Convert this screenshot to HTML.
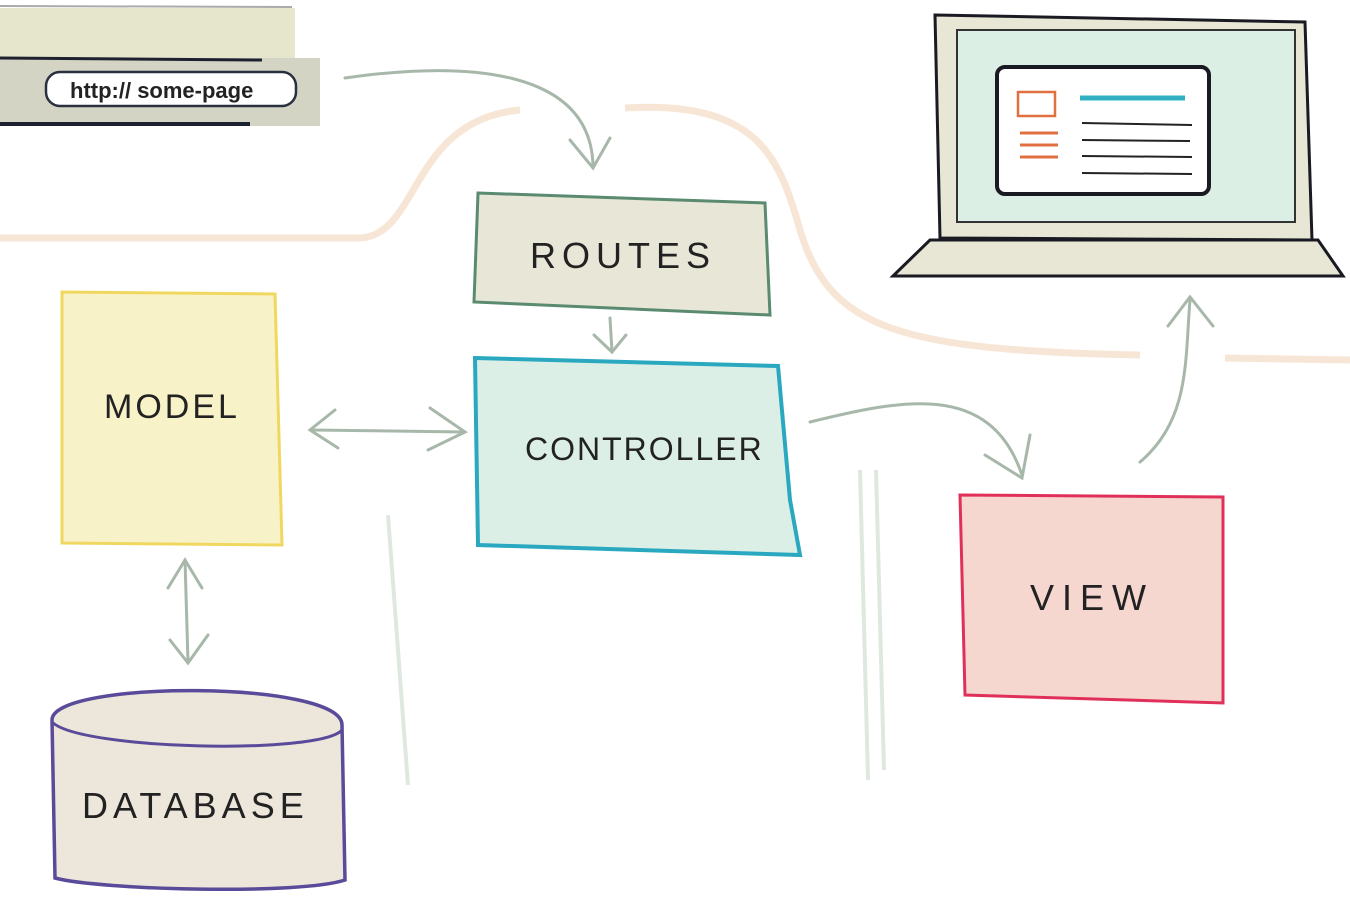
<!DOCTYPE html>
<html><head><meta charset="utf-8"><style>
html,body{margin:0;padding:0;background:#fff;width:1350px;height:900px;overflow:hidden}
svg{display:block}
text{font-family:"Liberation Sans",sans-serif;fill:#222}
</style></head><body>
<svg width="1350" height="900" viewBox="0 0 1350 900" xmlns="http://www.w3.org/2000/svg">
<g fill="none" stroke="#f3dcc4" stroke-width="7" opacity="0.7">
<path d="M0 238 L360 238 C420 235 410 120 520 110"/>
<path d="M625 108 C760 100 780 160 800 230 C830 330 900 350 1140 355"/>
<path d="M1225 358 L1350 360"/>
</g>
<g stroke="#dfe8df" stroke-width="4" fill="none">
<path d="M388 515 L408 785"/>
<path d="M860 470 L868 780"/>
<path d="M876 470 L884 770"/>
</g>
<rect x="0" y="8" width="295" height="50" fill="#e6e6cc"/>
<rect x="0" y="58" width="320" height="68" fill="#d3d4c4"/>
<line x1="0" y1="58" x2="262" y2="60" stroke="#1e2230" stroke-width="3"/>
<line x1="0" y1="124" x2="250" y2="124" stroke="#1e2230" stroke-width="4"/>
<line x1="0" y1="6" x2="292" y2="7" stroke="#aaa" stroke-width="2"/>
<rect x="46" y="72" width="250" height="34" rx="14" fill="#fff" stroke="#2a3040" stroke-width="2.5"/>
<text x="70" y="98" font-size="22" font-weight="bold">http:// some-page</text>
<g fill="none" stroke="#a7b8aa" stroke-width="3" stroke-linecap="round">
<path d="M345 78 C470 60 590 70 593 165"/>
<path d="M570 140 L593 168 L610 138"/>
<path d="M610 318 L612 352"/><path d="M594 335 L612 352 L626 335"/>
<path d="M312 430 L465 432"/>
<path d="M335 410 L310 430 L338 448"/>
<path d="M430 408 L465 432 L428 450"/>
<path d="M810 422 C900 400 990 380 1022 475"/>
<path d="M985 455 L1022 478 L1030 435"/>
<path d="M1140 462 C1190 420 1185 360 1190 300"/>
<path d="M1168 326 L1190 297 L1213 326"/>
<path d="M185 560 L188 662"/>
<path d="M168 588 L185 560 L202 588"/>
<path d="M170 640 L188 663 L208 635"/>
</g>
<path d="M478 193 L765 203 L770 315 L474 302 Z" fill="#e8e6d6" stroke="#5a8a70" stroke-width="3"/>
<text x="530" y="268" font-size="36" letter-spacing="6">ROUTES</text>
<path d="M475 358 L778 366 L790 500 L800 555 L478 545 Z" fill="#dcefe6" stroke="#2aa8c0" stroke-width="4"/>
<text x="525" y="460" font-size="32" letter-spacing="2">CONTROLLER</text>
<path d="M62 292 L275 294 L282 545 L62 543 Z" fill="#f8f2c8" stroke="#f0d860" stroke-width="3"/>
<text x="104" y="418" font-size="34" letter-spacing="3">MODEL</text>
<path d="M960 495 L1223 497 L1223 703 L965 695 Z" fill="#f5d7d0" stroke="#e0305a" stroke-width="3"/>
<text x="1030" y="610" font-size="36" letter-spacing="8">VIEW</text>
<path d="M52 720 C52 680 342 680 342 725 L345 880 C300 895 100 890 55 878 Z" fill="#ede6da" stroke="#5a4a9a" stroke-width="3.5"/>
<path d="M52 722 C80 750 320 755 342 730" fill="none" stroke="#5a4a9a" stroke-width="3"/>
<text x="82" y="818" font-size="36" letter-spacing="5">DATABASE</text>
<path d="M935 15 L1305 22 L1312 240 L940 238 Z" fill="#e8e6d4" stroke="#1a1a22" stroke-width="3"/>
<rect x="957" y="30" width="338" height="192" fill="#dcefe4" stroke="#333" stroke-width="2"/>
<rect x="997" y="67" width="212" height="127" rx="8" fill="#fff" stroke="#1a1a22" stroke-width="4"/>
<rect x="1018" y="92" width="37" height="24" fill="none" stroke="#e07040" stroke-width="2.5"/>
<line x1="1080" y1="98" x2="1185" y2="98" stroke="#30b0c0" stroke-width="5"/>
<g stroke="#e07040" stroke-width="3"><line x1="1020" y1="133" x2="1058" y2="133"/><line x1="1020" y1="145" x2="1058" y2="145"/><line x1="1020" y1="157" x2="1058" y2="157"/></g>
<g stroke="#222" stroke-width="2"><line x1="1082" y1="123" x2="1192" y2="125"/><line x1="1082" y1="140" x2="1190" y2="141"/><line x1="1082" y1="156" x2="1192" y2="157"/><line x1="1082" y1="173" x2="1192" y2="174"/></g>
<path d="M930 240 L1318 240 L1343 276 L893 276 Z" fill="#e8e6d4" stroke="#1a1a22" stroke-width="3"/>
</svg>
</body></html>
